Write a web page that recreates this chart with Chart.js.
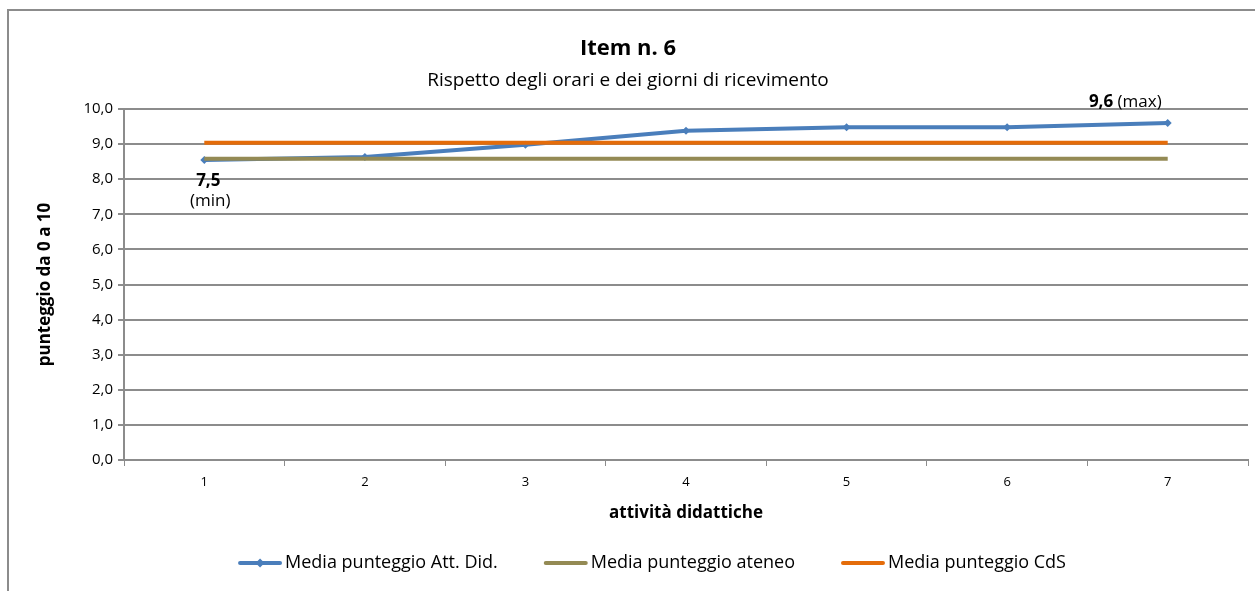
<!DOCTYPE html>
<html>
<head>
<meta charset="utf-8">
<script src="https://cdn.jsdelivr.net/npm/chart.js@4/dist/chart.umd.min.js"></script>
<style>
  html, body { margin: 0; padding: 0; background: #fff; }
  #wrap { position: relative; width: 1255px; height: 591px; overflow: hidden; }
  #frame { position: absolute; left: 7px; top: 9px; width: 1300px; height: 700px;
           border-top: 2px solid #8c8c8c; border-left: 2px solid #8c8c8c; box-sizing: border-box; }
  canvas { position: absolute; left: 0; top: 0; }
</style>
</head>
<body>
<div id="wrap">
  <div id="frame"></div>
  <canvas id="c" width="1255" height="591"></canvas>
</div>
<script>
const categories = ['1', '2', '3', '4', '5', '6', '7'];
const attDid = [8.55, 8.63, 8.98, 9.38, 9.48, 9.48, 9.60];
const ateneo = [8.58, 8.58, 8.58, 8.58, 8.58, 8.58, 8.58];
const cds = [9.04, 9.04, 9.04, 9.04, 9.04, 9.04, 9.04];
const seriesNames = ['Media punteggio Att. Did.', 'Media punteggio ateneo', 'Media punteggio CdS'];
const yTicks = [0, 1, 2, 3, 4, 5, 6, 7, 8, 9, 10];
const minLabel = ['7,5', '(min)'];
const maxLabel = ['9,6', ' (max)'];

const FONT = '"Open Sans", sans-serif';
const BLUE = '#4A7EBB', OLIVE = '#948A54', ORANGE = '#E46C0A', GRID = '#8c8c8c';
const LEGEND_CX = 652, LEGEND_CY = 563;

function drawMarker(ctx, x, y, r, color) {
  ctx.fillStyle = color;
  ctx.beginPath(); ctx.moveTo(x, y - r); ctx.lineTo(x + r, y); ctx.lineTo(x, y + r); ctx.lineTo(x - r, y); ctx.closePath(); ctx.fill();
}

const customLegend = {
  id: 'customLegend',
  afterDraw(chart) {
    const ctx = chart.ctx;
    const ds = chart.data.datasets;
    const lineW = 44, textGap = 3, itemGap = 46;
    ctx.save();
    ctx.font = '18px ' + FONT;
    const widths = ds.map(d => ctx.measureText(d.label).width);
    let total = 0;
    widths.forEach((w, i) => { total += lineW + textGap + w + (i < ds.length - 1 ? itemGap : 0); });
    let x = LEGEND_CX - total / 2;
    ds.forEach((d, i) => {
      ctx.strokeStyle = d.borderColor; ctx.lineWidth = 4; ctx.lineCap = 'round';
      ctx.beginPath(); ctx.moveTo(x + 2, LEGEND_CY); ctx.lineTo(x + lineW - 2, LEGEND_CY); ctx.stroke();
      if (d.pointRadius > 0) drawMarker(ctx, x + lineW / 2, LEGEND_CY, 4.5, d.borderColor);
      ctx.fillStyle = '#000'; ctx.textBaseline = 'middle'; ctx.textAlign = 'left';
      ctx.fillText(d.label, x + lineW + textGap, LEGEND_CY);
      x += lineW + textGap + widths[i] + itemGap;
    });
    ctx.restore();
  }
};

const annot = {
  id: 'annot',
  afterDatasetsDraw(chart) {
    const ctx = chart.ctx, x = chart.scales.x, y = chart.scales.y;
    ctx.save();
    ctx.fillStyle = '#000';
    ctx.textBaseline = 'middle';
    const i0 = 0;
    const px0 = x.getPixelForValue(i0), py0 = y.getPixelForValue(attDid[i0]);
    ctx.textAlign = 'center';
    ctx.font = 'bold 17px ' + FONT;
    ctx.fillText(minLabel[0], px0 + 4, py0 + 21);
    ctx.font = '17px ' + FONT;
    ctx.fillText(minLabel[1], px0 + 6, py0 + 41);
    const i1 = attDid.length - 1;
    const px1 = x.getPixelForValue(i1), py1 = y.getPixelForValue(attDid[i1]);
    ctx.font = 'bold 17px ' + FONT;
    const w1 = ctx.measureText(maxLabel[0]).width;
    ctx.font = '17px ' + FONT;
    const w2 = ctx.measureText(maxLabel[1]).width;
    const sx = px1 - 6 - (w1 + w2);
    ctx.textAlign = 'left';
    ctx.font = 'bold 17px ' + FONT;
    ctx.fillText(maxLabel[0], sx, py1 - 21);
    ctx.font = '17px ' + FONT;
    ctx.fillText(maxLabel[1], sx + w1, py1 - 21);
    ctx.restore();
  }
};

new Chart(document.getElementById('c'), {
  type: 'line',
  data: {
    labels: categories,
    datasets: [
      { label: seriesNames[0], data: attDid, borderColor: BLUE, backgroundColor: BLUE, borderWidth: 4,
        pointStyle: 'rectRot', pointRadius: 4, pointBorderWidth: 0, order: 3, tension: 0 },
      { label: seriesNames[1], data: ateneo, borderColor: OLIVE, backgroundColor: OLIVE, borderWidth: 4,
        pointRadius: 0, order: 2, tension: 0 },
      { label: seriesNames[2], data: cds, borderColor: ORANGE, backgroundColor: ORANGE, borderWidth: 4,
        pointRadius: 0, order: 1, tension: 0 }
    ]
  },
  options: {
    responsive: false,
    animation: false,
    devicePixelRatio: 1,
    layout: { padding: { top: 8, left: 8, right: 7, bottom: 59 } },
    plugins: {
      tooltip: { enabled: false },
      legend: { display: false },
      title: { display: true, text: 'Item n. 6', color: '#000',
               font: { family: FONT, size: 22, weight: 'bold', lineHeight: 1.2 },
               padding: { top: 28, bottom: 2 } },
      subtitle: { display: true, text: 'Rispetto degli orari e dei giorni di ricevimento', color: '#000',
                  font: { family: FONT, size: 19, lineHeight: 1.2 },
                  padding: { top: 5, bottom: 16.8 } }
    },
    scales: {
      x: {
        offset: true,
        afterFit(scale) { scale.height = 72; },
        grid: { offset: true, drawOnChartArea: false, drawTicks: true, tickLength: 6, color: GRID, lineWidth: 1 },
        border: { color: GRID, width: 2 },
        ticks: { color: '#000', font: { family: FONT, size: 13 }, padding: 8, maxRotation: 0 },
        title: { display: true, text: 'attività didattiche', color: '#000',
                 font: { family: FONT, size: 17, weight: 'bold' }, padding: { top: 4, bottom: 9 } }
      },
      y: {
        min: 0, max: 10,
        afterFit(scale) { scale.width = 116; },
        afterBuildTicks(scale) { scale.ticks = yTicks.map(v => ({ value: v })); },
        grid: { color: GRID, lineWidth: 2, tickLength: 6 },
        border: { color: GRID, width: 2 },
        ticks: { color: '#000', font: { family: FONT, size: 15 }, padding: 5,
                 callback: v => v.toFixed(1).replace('.', ',') },
        title: { display: true, text: 'punteggio da 0 a 10', color: '#000',
                 font: { family: FONT, size: 17, weight: 'bold' }, padding: { top: 27, bottom: 4 } }
      }
    }
  },
  plugins: [annot, customLegend]
});
</script>
</body>
</html>
